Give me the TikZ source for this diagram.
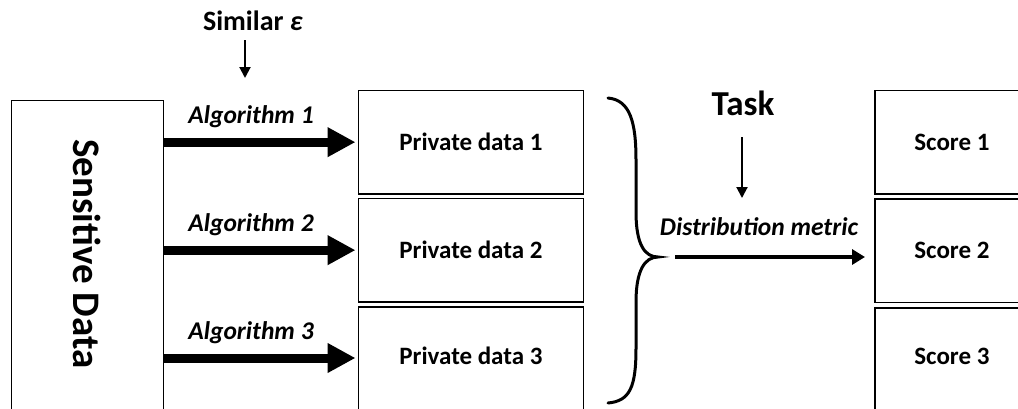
\documentclass[tikz,border=0pt]{standalone}
\usepackage{fontspec}
\setmainfont{Carlito}
\usetikzlibrary{arrows.meta}
\begin{document}
\begin{tikzpicture}[x=1pt,y=-1pt,
  thinbox/.style={draw=black,line width=1pt,inner sep=0pt,anchor=north west},
  databox/.style={draw=black,line width=1.8pt,inner sep=0pt,anchor=north west,minimum width=225pt,minimum height=103.5pt,font=\fontsize{25}{28}\selectfont\bfseries},
  scorebox/.style={draw=black,line width=1.8pt,inner sep=0pt,anchor=north west,minimum width=180pt,minimum height=103.5pt,font=\fontsize{25}{28}\selectfont\bfseries},
  algolabel/.style={font=\fontsize{25.5}{28}\selectfont\bfseries\itshape,inner sep=0pt},
  bigarrow/.style={line width=9pt,-{Triangle[length=28pt,width=28pt]},shorten >=2pt},
  thinarrow/.style={line width=2pt,-{Triangle[length=11pt,width=11pt]}},
  midarrow/.style={line width=4pt,-{Triangle[length=13pt,width=15pt]}}]
\useasboundingbox (0,0) rectangle (1018,408);
\clip (0,0) rectangle (1018,408);
% Sensitive data
\node[thinbox,minimum width=152.5pt,minimum height=320pt] (sens) at (10.5,99.5) {};
\node[rotate=-90,font=\fontsize{39}{42}\selectfont\bfseries,inner sep=0pt] (senslabel) at (86.75,254) {Sensitive Data};
% Private data boxes
\node[databox] (p1) at (357.5,89.5) {Private data 1};
\node[databox] (p2) at (357.5,197.5) {Private data 2};
\node[databox,minimum height=110pt,text depth=13pt] (p3) at (357.5,306) {Private data 3};
% Score boxes
\node[scorebox] (s1) at (874,89.5) {\hspace*{-26pt}Score 1};
\node[scorebox] (s2) at (874,198) {\hspace*{-26pt}Score 2};
\node[scorebox,minimum height=110pt,text depth=13pt] (s3) at (874,307) {\hspace*{-26pt}Score 3};
% Algorithm arrows
\draw[bigarrow] (sens.east |- p1.west) -- (p1.west);
\draw[bigarrow] (sens.east |- p2.west) -- (p2.west);
\draw[bigarrow] (sens.east |- 0,358) -- (p3.west |- 0,358);
\node[algolabel] (a1) at (251,117) {Algorithm 1};
\node[algolabel] (a2) at (251,225) {Algorithm 2};
\node[algolabel] (a3) at (251,333) {Algorithm 3};
% Similar epsilon
\node[font=\fontsize{28}{31}\selectfont\bfseries,inner sep=0pt] (sim) at (253,21) {Similar \textit{ε}};
\coordinate (simend) at (245,78);
\draw[thinarrow] (simend |- 0,40) -- (simend);
% Brace
\coordinate (brtip) at (658,257);
\draw[line width=3pt,line cap=round] (608,98) .. controls (630,100) and (636,122) .. (636,160) -- (636,212) .. controls (636,245) and (645,257) .. (brtip) .. controls (645,257) and (636,270) .. (636,302) -- (636,348) .. controls (636,387) and (630,401) .. (608,403);
% Task
\node[font=\fontsize{35}{38}\selectfont\bfseries,inner sep=0pt] (task) at (743,103) {Task};
\coordinate (taskend) at (742,198);
\draw[thinarrow] (taskend |- 0,137) -- (taskend);
% Distribution metric
\node[algolabel] (dm) at (759,227) {Distribution metric};
\coordinate (dm0) at (675,257);
\draw[midarrow,shorten >=9pt] (dm0) -- (s2.west |- dm0);
\end{tikzpicture}
\end{document}
